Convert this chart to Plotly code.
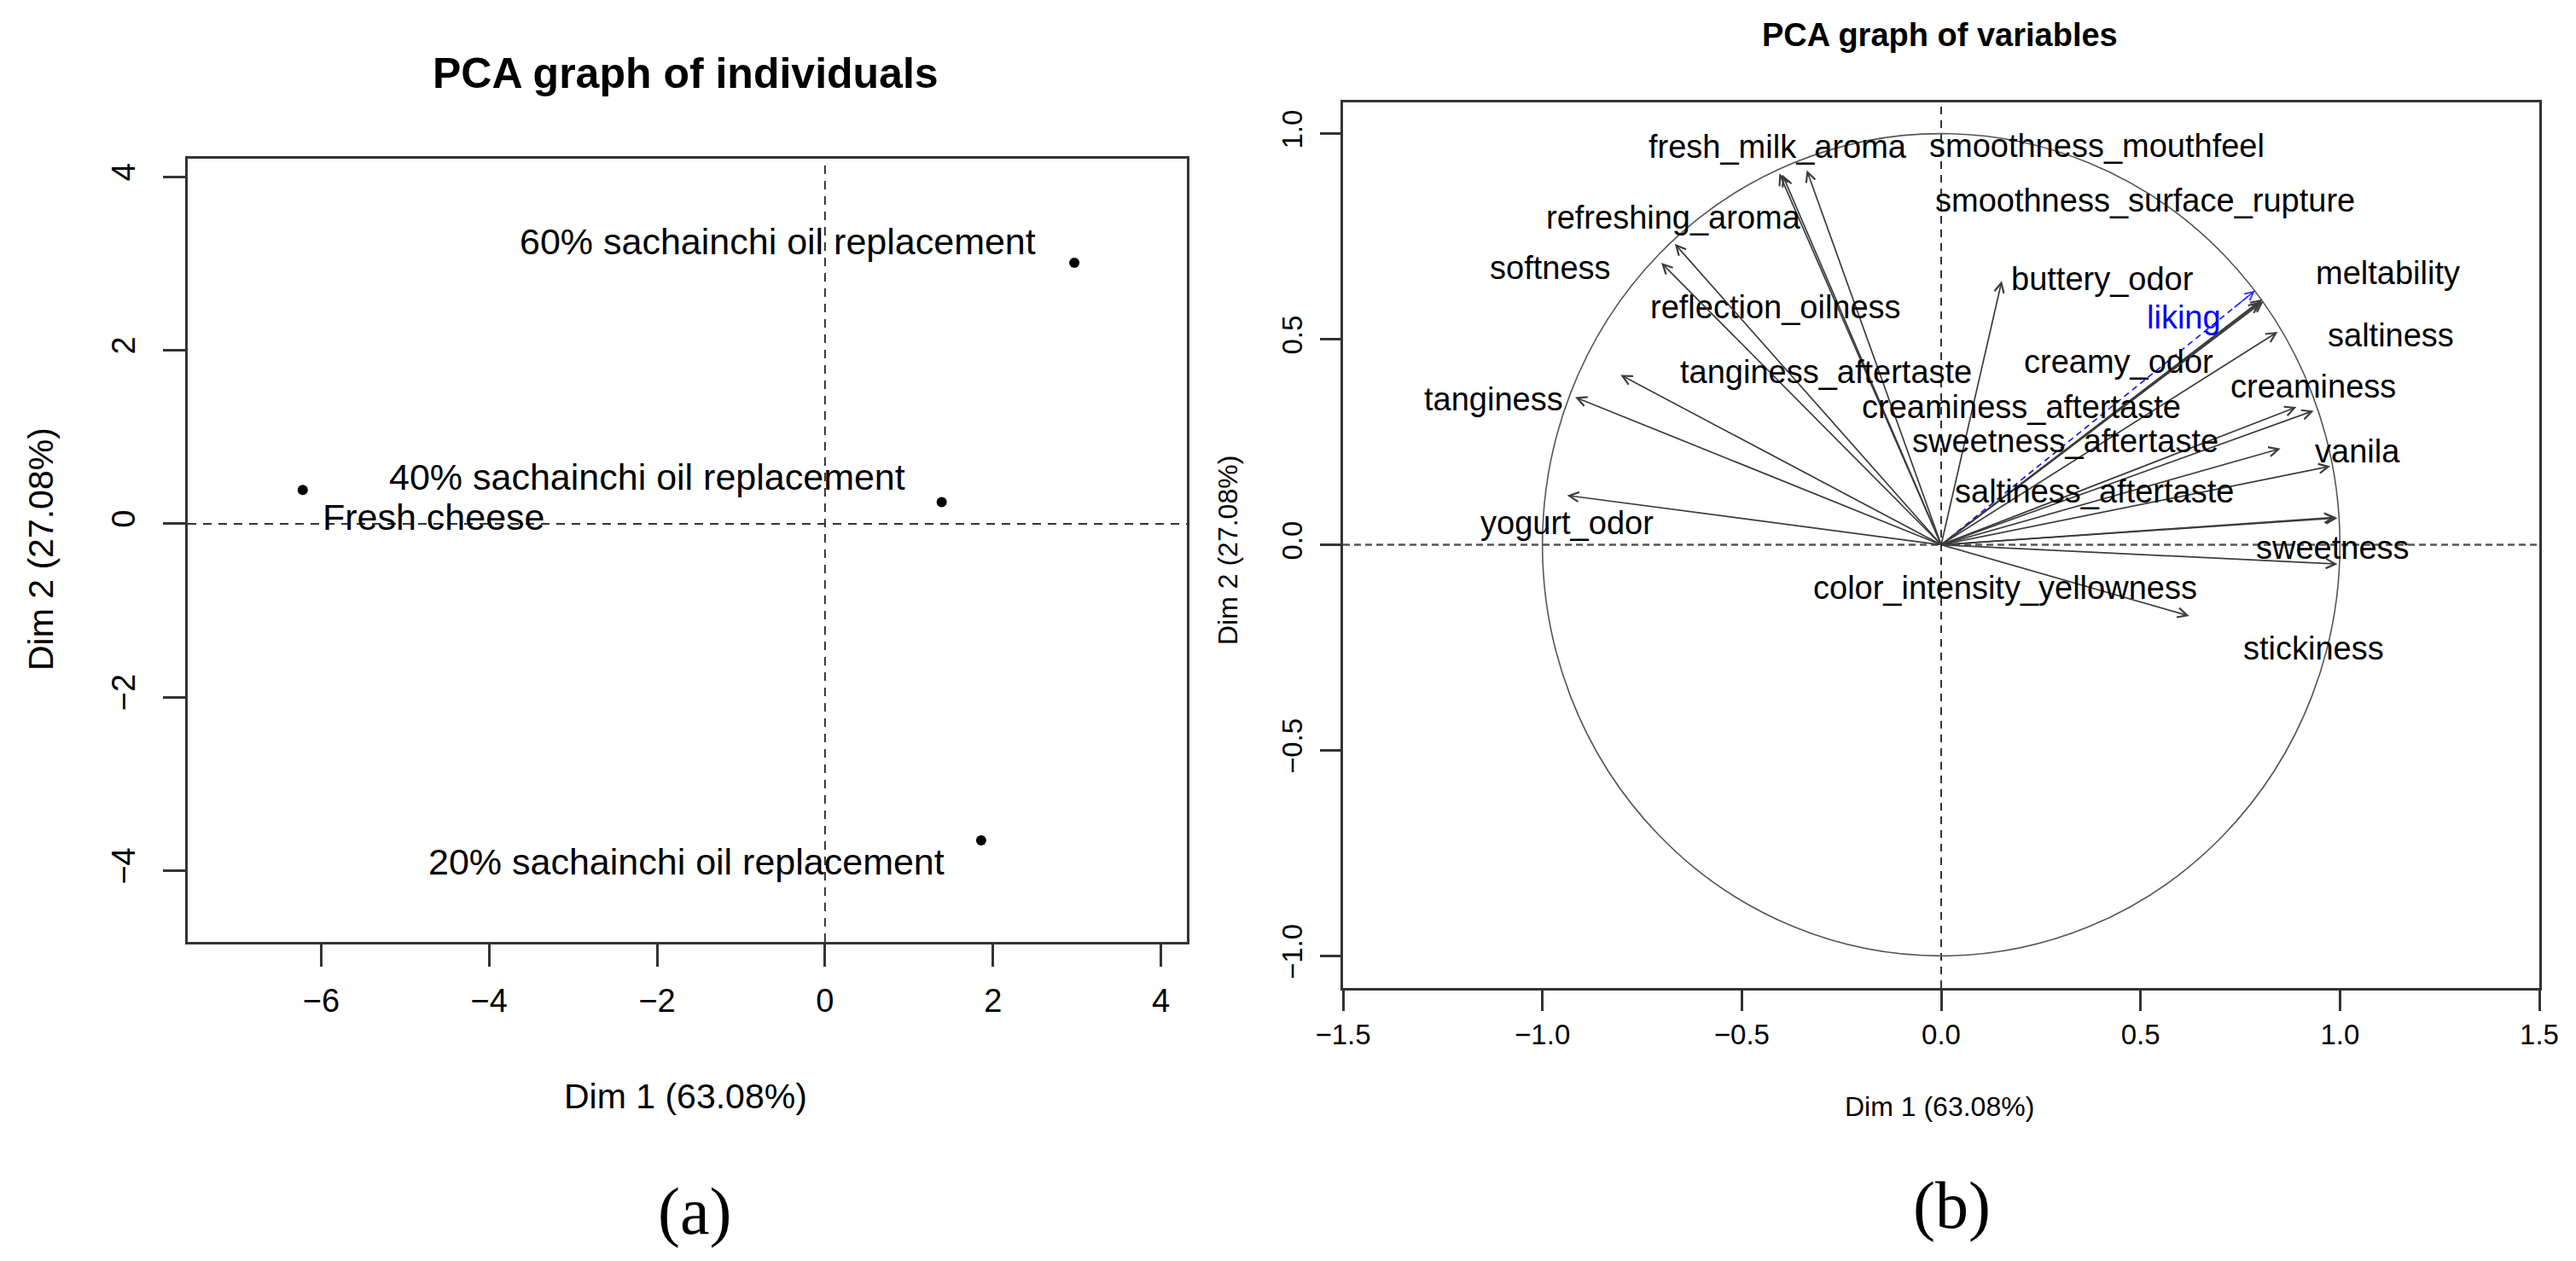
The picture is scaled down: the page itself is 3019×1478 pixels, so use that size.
import plotly.graph_objects as go

# ---------------- Panel (a): PCA graph of individuals ----------------
ind_names = ["Fresh cheese", "20% sachainchi oil replacement",
             "40% sachainchi oil replacement", "60% sachainchi oil replacement"]
ind_dim1 = [-6.22, 1.86, 1.39, 2.97]
ind_dim2 = [0.39, -3.65, 0.25, 3.01]

ind_xticks = [-6, -4, -2, 0, 2, 4]
ind_yticks = [-4, -2, 0, 2, 4]

# ---------------- Panel (b): PCA graph of variables ----------------
var_names = ["fresh_milk_aroma", "smoothness_mouthfeel", "reflection_oilness",
             "refreshing_aroma", "softness", "tanginess_aftertaste", "tanginess",
             "yogurt_odor", "buttery_odor", "meltability", "creamy_odor",
             "smoothness_surface_rupture", "saltiness", "creaminess_aftertaste",
             "creaminess", "sweetness_aftertaste", "vanila", "saltiness_aftertaste",
             "sweetness", "stickiness", "color_intensity_yellowness"]
var_dim1 = [-0.406, -0.398, -0.337, -0.668, -0.702, -0.804, -0.918, -0.938,
            0.152, 0.805, 0.800, 0.808, 0.844, 0.891, 0.934, 0.851, 0.976,
            0.990, 0.994, 0.994, 0.622]
var_dim2 = [0.903, 0.900, 0.911, 0.732, 0.686, 0.413, 0.359, 0.120,
            0.642, 0.597, 0.590, 0.592, 0.518, 0.335, 0.326, 0.234, 0.191,
            0.067, 0.065, -0.047, -0.173]

sup_names = ["liking"]
sup_dim1 = [0.787]
sup_dim2 = [0.618]

# label placement (as arranged on the original figure), data coordinates
label_pos = {
    "fresh_milk_aroma": (-0.409, 0.969),
    "smoothness_mouthfeel": (0.390, 0.971),
    "smoothness_surface_rupture": (0.512, 0.838),
    "refreshing_aroma": (-0.670, 0.795),
    "softness": (-0.979, 0.673),
    "reflection_oilness": (-0.416, 0.578),
    "buttery_odor": (0.405, 0.646),
    "meltability": (1.120, 0.660),
    "liking": (0.609, 0.554),
    "saltiness": (1.128, 0.509),
    "creamy_odor": (0.445, 0.445),
    "tanginess_aftertaste": (-0.288, 0.421),
    "creaminess": (0.932, 0.384),
    "creaminess_aftertaste": (0.201, 0.335),
    "tanginess": (-1.122, 0.353),
    "sweetness_aftertaste": (0.312, 0.253),
    "vanila": (1.045, 0.228),
    "saltiness_aftertaste": (0.384, 0.130),
    "yogurt_odor": (-0.938, 0.052),
    "sweetness": (0.982, -0.007),
    "color_intensity_yellowness": (0.160, -0.105),
    "stickiness": (0.934, -0.252),
}

var_xticks = [-1.5, -1.0, -0.5, 0.0, 0.5, 1.0, 1.5]
var_yticks = [-1.0, -0.5, 0.0, 0.5, 1.0]

# ---------------- figure ----------------
W, H = 3019, 1478
FONT = "Liberation Sans, Arial, Helvetica, sans-serif"
SERIF = "Liberation Serif, Times New Roman, serif"
AXC = "#333333"

fig = go.Figure()

fig.add_trace(go.Scatter(x=ind_dim1, y=ind_dim2, mode="markers",
                         marker=dict(color="black", size=12),
                         xaxis="x", yaxis="y", showlegend=False, hoverinfo="skip"))

# supplementary variable line (blue dashed)
fig.add_trace(go.Scatter(x=[0, sup_dim1[0]], y=[0, sup_dim2[0]], mode="lines",
                         line=dict(color="#0000FF", width=1.5, dash="7px,5px"),
                         xaxis="x2", yaxis="y2", showlegend=False, hoverinfo="skip"))

ax_common = dict(showgrid=False, zeroline=False, showline=True, mirror=True,
                 linecolor=AXC, linewidth=2.5, ticks="outside", tickcolor=AXC,
                 tickwidth=2.5, color="black", automargin=False)

fig.update_layout(
    width=W, height=H, autosize=False,
    margin=dict(l=0, r=0, t=0, b=0, pad=0),
    paper_bgcolor="white", plot_bgcolor="white",
    font=dict(family=FONT, color="black"),
    xaxis=dict(domain=[212 / W, 1383 / W], range=[-7.59, 4.31],
               tickvals=ind_xticks, ticklen=26, tickfont=dict(size=38),
               ticklabelstandoff=8, anchor="y", **ax_common),
    yaxis=dict(domain=[1 - 1096 / H, 1 - 178 / H], range=[-4.82, 4.21],
               tickvals=ind_yticks, ticklen=26, tickfont=dict(size=38),
               ticklabelstandoff=18, tickangle=-90, anchor="x", **ax_common),
    xaxis2=dict(domain=[1566 / W, 2968 / W], range=[-1.5, 1.5],
                tickvals=var_xticks, tickformat=".1f", ticklen=24,
                tickfont=dict(size=33), anchor="y2", **ax_common),
    yaxis2=dict(domain=[1 - 1150 / H, 1 - 112 / H], range=[-1.078, 1.076],
                tickvals=var_yticks, tickformat=".1f", ticklen=24,
                tickfont=dict(size=33), ticklabelstandoff=8, tickangle=-90,
                anchor="x2", **ax_common),
)

# reference dashed lines
dash_line = dict(color="#333333", width=2, dash="10px,8px")
fig.add_shape(type="line", xref="x", yref="y domain", x0=0, x1=0, y0=0, y1=1, line=dash_line)
fig.add_shape(type="line", xref="x domain", yref="y", x0=0, x1=1, y0=0, y1=0, line=dash_line)
fig.add_shape(type="line", xref="x2", yref="y2 domain", x0=0, x1=0, y0=0, y1=1,
              line=dict(color="#333333", width=2, dash="9px,7px"))
fig.add_shape(type="line", xref="x2 domain", yref="y2", x0=0, x1=1, y0=0, y1=0,
              line=dict(color="#555555", width=2.5, dash="8px,5px"))

# correlation circle
fig.add_shape(type="circle", xref="x2", yref="y2", x0=-1, y0=-1, x1=1, y1=1,
              line=dict(color="#555555", width=1.6))

# individual labels
ind_label_style = {
    "Fresh cheese": ("left", 21, -32),
    "20% sachainchi oil replacement": ("right", -41, -25),
    "40% sachainchi oil replacement": ("right", -41, 30),
    "60% sachainchi oil replacement": ("right", -43, 25),
}
for n, x, y in zip(ind_names, ind_dim1, ind_dim2):
    anc, dx, dy = ind_label_style[n]
    fig.add_annotation(x=x, y=y, xref="x", yref="y", text=n, showarrow=False,
                       xanchor=anc, yanchor="middle", xshift=dx, yshift=dy,
                       font=dict(size=43, family=FONT, color="black"))

# variable arrows
for n, x, y in zip(var_names, var_dim1, var_dim2):
    fig.add_annotation(x=x, y=y, ax=0, ay=0, xref="x2", yref="y2",
                       axref="x2", ayref="y2", text="", showarrow=True,
                       arrowhead=5, arrowsize=1.3, arrowwidth=1.7,
                       arrowcolor="#3c3c3c", standoff=0, startstandoff=0)
    lx, ly = label_pos[n]
    fig.add_annotation(x=lx, y=ly, xref="x2", yref="y2", text=n, showarrow=False,
                       xanchor="center", yanchor="middle",
                       font=dict(size=38, family=FONT, color="black"))

for n, x, y in zip(sup_names, sup_dim1, sup_dim2):
    fig.add_annotation(x=x, y=y, ax=0.93 * x, ay=0.93 * y, xref="x2", yref="y2",
                       axref="x2", ayref="y2", text="", showarrow=True,
                       arrowhead=5, arrowsize=1.3, arrowwidth=1.5,
                       arrowcolor="#3333FF", standoff=0, startstandoff=0)
    lx, ly = label_pos[n]
    fig.add_annotation(x=lx, y=ly, xref="x2", yref="y2", text=n, showarrow=False,
                       xanchor="center", yanchor="middle",
                       font=dict(size=38, family=FONT, color="#0000FF"))

# titles and axis titles
def paper_text(txt, px, py, size, family=FONT, angle=0):
    fig.add_annotation(x=px / W, y=1 - py / H, xref="paper", yref="paper",
                       text=txt, showarrow=False, textangle=angle,
                       xanchor="center", yanchor="middle",
                       font=dict(size=size, family=family, color="black"))

paper_text("<b>PCA graph of individuals</b>", 795, 78, 50)
paper_text("Dim 1 (63.08%)", 795, 1277, 41)
paper_text("Dim 2 (27.08%)", 40, 636, 41, angle=-90)
paper_text("(a)", 806, 1411, 78, family=SERIF)

paper_text("<b>PCA graph of variables</b>", 2265, 33, 38)
paper_text("Dim 1 (63.08%)", 2265, 1289, 32)
paper_text("Dim 2 (27.08%)", 1431, 637, 32, angle=-90)
paper_text("(b)", 2279, 1404, 78, family=SERIF)

fig.write_html("out.html")
